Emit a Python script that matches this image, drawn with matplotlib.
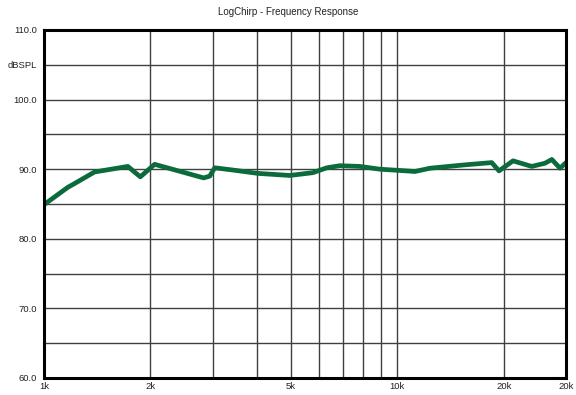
import matplotlib
matplotlib.use("Agg")
import matplotlib.pyplot as plt

plt.rcParams['font.family'] = ['Liberation Sans', 'DejaVu Sans']

freq_hz = [1000, 1168, 1207, 1390, 1727, 1873, 2056, 2830, 2944, 3042, 3400, 4026,
           4960, 5763, 6313, 6871, 7831, 8920, 9950, 11210, 12360, 15330, 18490,
           19390, 21240, 24000, 26170, 27350, 28860, 30000]
level_db = [84.9, 87.4, 87.8, 89.6, 90.4, 88.9, 90.7, 88.75, 89.0, 90.2, 89.9, 89.4,
            89.1, 89.5, 90.2, 90.5, 90.4, 90.0, 89.85, 89.67, 90.14, 90.6, 90.95,
            89.76, 91.2, 90.4, 90.86, 91.4, 90.14, 90.95]

x_grid = [2000, 3000, 4000, 5000, 6000, 7000, 8000, 9000, 10000, 20000]
x_tick_pos = [1000, 2000, 5000, 10000, 20000, 30000]
x_tick_labels = ['1k', '2k', '5k', '10k', '20k', '20k']
y_tick_pos = [60, 65, 70, 75, 80, 85, 90, 95, 100, 105, 110]
y_tick_labels = ['60.0', '', '70.0', '', '80.0', '', '90.0', '', '100.0', 'dBSPL', '110.0']

fig = plt.figure(figsize=(5.76, 3.95), dpi=100)
ax = fig.add_axes([44/576, 1-378/395, (566-44)/576, (378-30)/395])
ax.set_xscale('log')
ax.set_xlim(1000, 30000)
ax.set_ylim(60, 110)

for xv in x_grid:
    ax.axvline(xv, color='#404040', lw=1.0, zorder=1)
for yv in y_tick_pos[1:-1]:
    ax.axhline(yv, color='#404040', lw=1.0, zorder=1)

ax.plot(freq_hz, level_db, color='#0c6b3c', lw=3.4, solid_joinstyle='round',
        solid_capstyle='round', zorder=3, clip_on=True)

ax.set_xticks(x_tick_pos)
ax.set_xticklabels(x_tick_labels)
ax.xaxis.set_minor_locator(matplotlib.ticker.NullLocator())
ax.set_yticks(y_tick_pos)
ax.set_yticklabels(y_tick_labels)
ax.tick_params(axis='both', length=0, labelsize=6.8, colors='#222222')
ax.tick_params(axis='x', pad=3)
ax.tick_params(axis='y', pad=5)

for s in ax.spines.values():
    s.set_linewidth(2.2)
    s.set_color('black')
    s.set_zorder(4)

fig.text(0.5, 1-12/395, 'LogChirp - Frequency Response', ha='center', va='center',
         fontsize=7.0, color='#222222')

fig.savefig('out.png', dpi=100)
